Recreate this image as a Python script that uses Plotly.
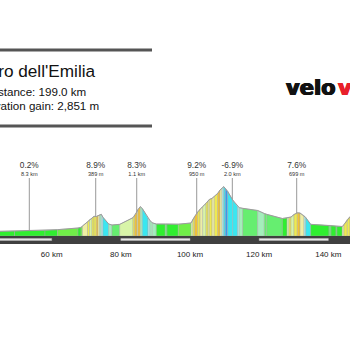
import numpy as np
import plotly.graph_objects as go

# ---------------- data ----------------
race_name = "Giro dell'Emilia"
distance_text = "Distance: 199.0 km"
gain_text = "Elevation gain: 2,851 m"
logo_black = "velo"
logo_red = "viewer"

# profile points (km, elevation m)
km = [44.0, 49.24, 58.06, 61.68, 67.61, 68.48, 68.91, 70.36, 70.94, 71.66,
      72.24, 72.90, 73.39, 73.88, 74.35, 74.84, 76.49, 77.44, 79.67, 83.52,
      84.01, 84.68, 84.96, 85.63, 86.21, 87.86, 88.43, 89.10, 90.26, 92.86,
      93.35, 96.62, 100.29, 100.87, 101.36, 102.23, 102.90, 103.68, 104.63, 105.21,
      105.58, 106.37, 107.03, 108.02, 108.68, 109.26, 109.75, 110.21, 110.91, 112.35,
      113.80, 114.26, 115.25, 119.58, 121.49, 122.19, 126.70, 128.06, 128.64, 129.22,
      130.08, 131.04, 131.82, 132.98, 133.47, 134.91, 140.21, 140.79, 142.23, 142.52,
      144.05, 144.54, 145.50, 146.28, 147.15]
elev = [55, 60, 68, 76, 96, 104, 120, 168, 196, 212,
        236, 234, 244, 254, 260, 224, 144, 132, 140, 220,
        246, 294, 318, 352, 330, 212, 186, 158, 144, 144,
        144, 142, 156, 204, 234, 288, 324, 354, 392, 420,
        438, 452, 474, 512, 552, 576, 592, 572, 534, 432,
        352, 340, 332, 306, 270, 260, 210, 216, 222, 228,
        258, 278, 276, 244, 222, 140, 128, 126, 120, 118,
        114, 138, 198, 232, 264]
# gradient class (%) of each segment between consecutive points
grade = [0.3, 0.3, 0.4, 1.5, 0.8, 1.5, 4, 6, 2.5, 5,
         6, 8, 4, -2.5, -3.5, -6, -2.5, -0.8, 2.5, 6,
         8, 4, 7.5, -2.5, -6, -3.5, -2.5, -2, 0.2, -1,
         0.2, 1.5, 2.5, 6, 8, 6, 4, 3, 6, 4,
         6, 4, 6, 8, 4, -3, -5, -10, -7, -6,
         -3.5, -2, -1, -2.5, -1, -1, 0.2, 2.5, 6, 3,
         6, 7.5, 4, -3, -6, 0, -1, 0, -1, 0,
         4, 6, 6, 6]

# climb labels
climb_km = [53.52, 72.73, 84.59, 101.94, 112.24, 130.86, 147.9]
climb_grade = ["0.2%", "8.9%", "8.3%", "9.2%", "-6.9%", "7.6%", "9.5%"]
climb_len = ["8.3 km", "389 m", "1.1 km", "950 m", "2.0 km", "699 m", "600 m"]

tick_km = [40, 60, 80, 100, 120, 140, 160]
tick_text = [f"{v} km" for v in tick_km]
stripe_start = [40, 80, 120]
stripe_len = 20

# ---------------- style ----------------
W, H = 350, 350
PLOT_BOTTOM = 244  # px


def grade_color(g):
    if g <= -8:
        return "#3a98ea"
    if g <= -4.5:
        return "#3ae6f0"
    if g <= -3:
        return "#a8eeee"
    if g <= -1.5:
        return "#a4eebc"
    if g <= -0.3:
        return "#66ee70"
    if g < 1:
        return "#30ee30"
    if g < 2:
        return "#70ee48"
    if g < 3.5:
        return "#d8f4a8"
    if g < 5:
        return "#eeeea4"
    if g < 7:
        return "#eeea50"
    return "#f2c234"


def py(p):
    return (PLOT_BOTTOM - p) / PLOT_BOTTOM


def px(p):
    return p / W


fig = go.Figure()

for i in range(len(grade)):
    fig.add_trace(go.Scatter(
        x=[km[i], km[i], km[i + 1], km[i + 1], km[i]],
        y=[0, elev[i], elev[i + 1], 0, 0],
        fill="toself", fillcolor=grade_color(grade[i]),
        mode="lines", line=dict(color="rgba(165,165,165,0.7)", width=0.6),
        hoverinfo="skip", showlegend=False))

fig.add_trace(go.Scatter(x=km, y=elev, mode="lines",
                         line=dict(color="#9c9c9c", width=1),
                         hoverinfo="skip", showlegend=False))

LINE_TOP = 696
for k in climb_km:
    fig.add_trace(go.Scatter(x=[k, k], y=[LINE_TOP, float(np.interp(k, km, elev))],
                             mode="lines", line=dict(color="#999999", width=1),
                             hoverinfo="skip", showlegend=False))

fig.add_trace(go.Scatter(x=climb_km, y=[846] * len(climb_km), mode="text",
                         text=climb_grade, textposition="middle center",
                         textfont=dict(size=8.3, color="#333333",
                                       family="Liberation Sans, Arial"),
                         cliponaxis=False, hoverinfo="skip", showlegend=False))
fig.add_trace(go.Scatter(x=climb_km, y=[738] * len(climb_km), mode="text",
                         text=climb_len, textposition="middle center",
                         textfont=dict(size=5.6, color="#333333",
                                       family="Liberation Sans, Arial"),
                         cliponaxis=False, hoverinfo="skip", showlegend=False))

shapes = [dict(type="rect", xref="paper", yref="y", x0=0, x1=1, y0=-96, y1=0,
               fillcolor="#404040", line=dict(width=0), layer="above")]
for s in stripe_start:
    shapes.append(dict(type="rect", xref="x", yref="y", x0=s, x1=s + stripe_len,
                       y0=-54, y1=-30, fillcolor="#e6e6e6",
                       line=dict(color="#bbbbbb", width=0.5), layer="above"))
for ypix in (50, 126):
    shapes.append(dict(type="line", xref="paper", yref="paper", x0=-0.05,
                       x1=px(152), y0=py(ypix), y1=py(ypix),
                       line=dict(color="#555555", width=3)))

annotations = [
    dict(xref="paper", yref="paper", x=px(97.5), y=py(71), xanchor="right",
         yanchor="middle", text=race_name, showarrow=False,
         font=dict(size=17.2, color="#111111", family="Liberation Sans, Arial")),
    dict(xref="paper", yref="paper", x=px(88.5), y=py(91), xanchor="right",
         yanchor="middle", text=distance_text, showarrow=False,
         font=dict(size=11.6, color="#111111", family="Liberation Sans, Arial")),
    dict(xref="paper", yref="paper", x=px(100.5), y=py(105.7), xanchor="right",
         yanchor="middle", text=gain_text, showarrow=False,
         font=dict(size=11.6, color="#111111", family="Liberation Sans, Arial")),
    dict(xref="paper", yref="paper", x=px(284), y=py(88), xanchor="left",
         yanchor="middle", text="<b>" + logo_black + "</b>", showarrow=False,
         font=dict(size=21, color="#111111", family="DejaVu Sans",
                   shadow="0.7px 0 0 #111111, -0.7px 0 0 #111111, 0 0.4px 0 #111111")),
    dict(xref="paper", yref="paper", x=px(336), y=py(88), xanchor="left",
         yanchor="middle", text="<b>" + logo_red + "</b>", showarrow=False,
         font=dict(size=21, color="#e8202a", family="DejaVu Sans",
                   shadow="0.7px 0 0 #e8202a, -0.7px 0 0 #e8202a, 0 0.4px 0 #e8202a")),
]

fig.update_layout(
    width=W, height=H,
    margin=dict(l=0, r=0, t=0, b=H - PLOT_BOTTOM),
    paper_bgcolor="white", plot_bgcolor="white",
    shapes=shapes, annotations=annotations,
    xaxis=dict(range=[45.047, 146.276], tickvals=tick_km, ticktext=tick_text,
               showgrid=False, zeroline=False, showline=False, ticks="",
               tickfont=dict(size=8, color="#222222", family="Liberation Sans, Arial"),
               ticklabelstandoff=4),
    yaxis=dict(range=[-96, 2832], visible=False),
    showlegend=False,
)

fig.write_html("out.html")
